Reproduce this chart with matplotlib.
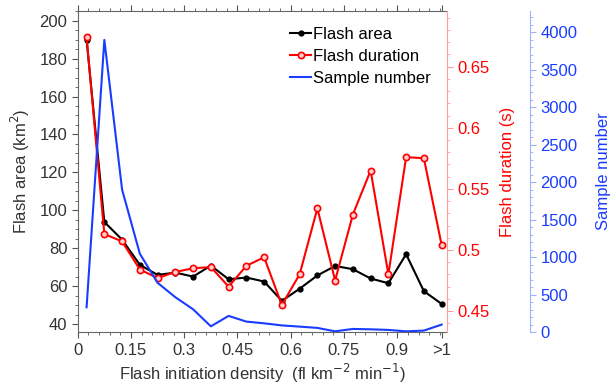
import matplotlib
matplotlib.use('Agg')
import matplotlib.pyplot as plt
from matplotlib.ticker import MultipleLocator, FixedLocator

plt.rcParams['font.family'] = ['Liberation Sans', 'DejaVu Sans']
FS = 12

# bin centres of flash initiation density, last bin is ">1"
density = [0.025, 0.075, 0.125, 0.175, 0.225, 0.275, 0.325, 0.375, 0.425, 0.475, 0.525,
           0.575, 0.625, 0.675, 0.725, 0.775, 0.825, 0.875, 0.925, 0.975, 1.025]
flash_area = [190.0, 93.8, 84.5, 71.2, 65.9, 67.1, 65.0, 70.8, 63.6, 64.5, 62.4,
              52.2, 58.6, 65.6, 70.6, 68.9, 64.0, 61.5, 76.8, 57.3, 50.6]
flash_duration = [0.674, 0.513, 0.507, 0.484, 0.477, 0.482, 0.485, 0.486, 0.470, 0.487, 0.494,
                  0.455, 0.480, 0.534, 0.475, 0.529, 0.565, 0.480, 0.576, 0.575, 0.504]
sample_number = [334, 3900, 1903, 1048, 660, 468, 307, 80, 219, 143, 120,
                  92, 76, 59, 13, 45, 40, 32, 13, 23, 103]

xtick_pos = [0, 0.15, 0.3, 0.45, 0.6, 0.75, 0.9, 1.025]
xtick_labels = ['0', '0.15', '0.3', '0.45', '0.6', '0.75', '0.9', '>1']

TXT = '#333333'
RED = '#ff0000'
BLUE = '#1a3cff'

fig = plt.figure(figsize=(6.1, 3.87), dpi=100)
ax = fig.add_axes([0.1274, 0.1413, 0.6059, 0.8311])
ax2 = ax.twinx()
ax3 = ax.twinx()

l1, = ax.plot(density, flash_area, color='black', lw=1.5, marker='o', ms=3.5,
              label='Flash area')
l2, = ax2.plot(density, flash_duration, color=RED, lw=1.5, marker='o', ms=4.5,
               mfc='#ffd0d0', mew=1.2, label='Flash duration')
l3, = ax3.plot(density, sample_number, color=BLUE, lw=1.5, label='Sample number')

ax.set_xlim(0, 1.041)
ax.set_ylim(35.6, 205.3)
ax2.set_ylim(0.4326, 0.6958)
ax3.set_ylim(0, 4290)

ax.xaxis.set_major_locator(FixedLocator(xtick_pos))
ax.set_xticklabels(xtick_labels)
ax.xaxis.set_minor_locator(MultipleLocator(0.03))
ax.yaxis.set_major_locator(MultipleLocator(20))
ax.yaxis.set_minor_locator(MultipleLocator(5))
ax2.yaxis.set_minor_locator(MultipleLocator(0.01))
ax2.set_yticks([0.45, 0.5, 0.55, 0.6, 0.65])
ax2.set_yticklabels(['0.45', '0.5', '0.55', '0.6', '0.65'])
ax3.yaxis.set_major_locator(MultipleLocator(500))
ax3.yaxis.set_minor_locator(MultipleLocator(100))

ax.tick_params(which='both', direction='out', top=True, right=False, colors='#555555',
               labelcolor=TXT, labelsize=FS)
ax.tick_params(which='major', length=4)
ax.tick_params(which='minor', length=2)
ax.spines['right'].set_visible(False)
for s in ['left', 'bottom', 'top']:
    ax.spines[s].set_color('#666666')

for s in ['left', 'bottom', 'top']:
    ax2.spines[s].set_visible(False)
    ax3.spines[s].set_visible(False)
ax2.spines['right'].set_color('#ff9c9c')
ax2.tick_params(which='both', direction='out', colors='#ff9c9c', labelcolor=RED, labelsize=FS)
ax2.tick_params(which='major', length=4)
ax2.tick_params(which='minor', length=2)

ax3.spines['right'].set_position(('axes', 1.2238))
ax3.spines['right'].set_color('#9fb0ff')
ax3.tick_params(which='both', direction='out', colors='#9fb0ff', labelcolor=BLUE, labelsize=FS)
ax3.tick_params(which='major', length=4)
ax3.tick_params(which='minor', length=2)

ax.set_xlabel('Flash initiation density  (fl km$^{-2}$ min$^{-1}$)', color=TXT, fontsize=FS,
              labelpad=3)
ax.set_ylabel('Flash area (km$^2$)', color=TXT, fontsize=FS, labelpad=5)
ax2.set_ylabel('Flash duration (s)', color=RED, fontsize=FS, labelpad=7)
ax3.set_ylabel('Sample number', color=BLUE, fontsize=FS, labelpad=13)

ax3.legend([l1, l2, l3], ['Flash area', 'Flash duration', 'Sample number'],
           loc='upper left', bbox_to_anchor=(0.535, 0.996), frameon=False,
           fontsize=FS, handlelength=1.25, handletextpad=0.1, labelspacing=0.41)

fig.savefig('out.png', dpi=100)
